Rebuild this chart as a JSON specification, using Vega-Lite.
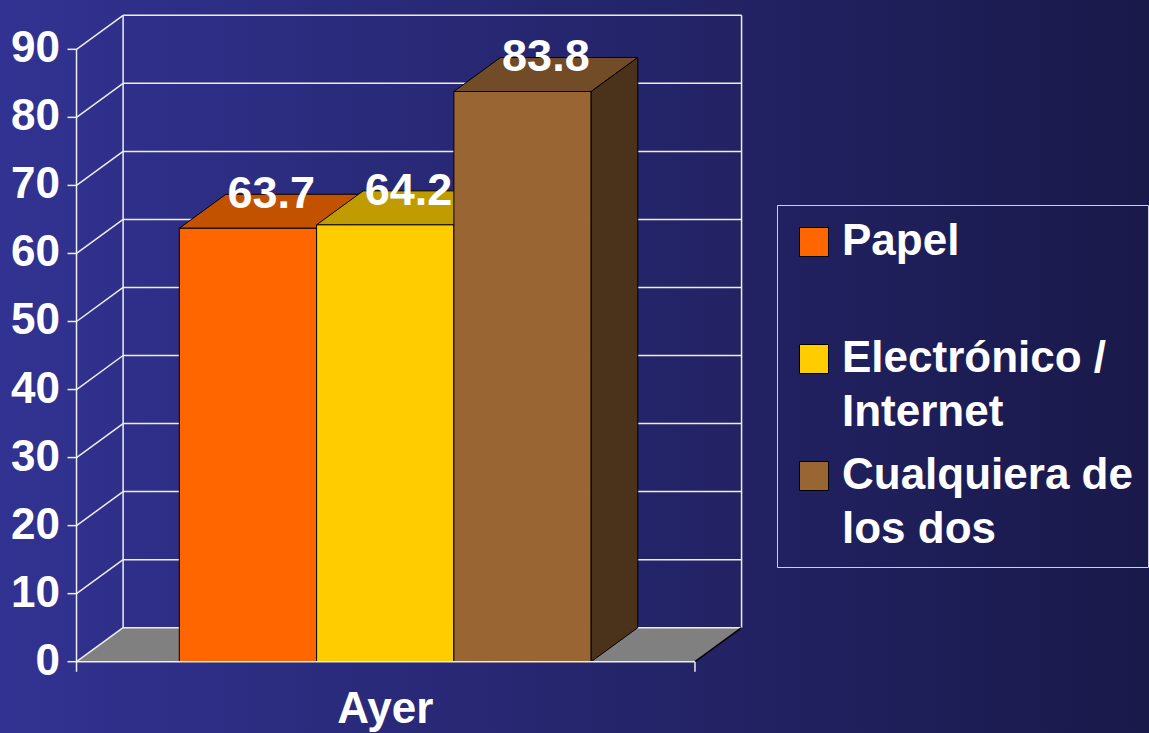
{
  "$schema": "https://vega.github.io/schema/vega-lite/v6.json",
  "width": 1149,
  "height": 733,
  "padding": 0,
  "autosize": {"type": "none"},
  "config": {"view": {"stroke": null}, "font": "Liberation Sans"},
  "layer": [
    {
      "data": {"values": [{"fondo": 1}]},
      "mark": {"type": "rect", "stroke": null, "fill": {"gradient": "linear", "x1": 0, "y1": 0, "x2": 1, "y2": 0, "stops": [{"offset": 0, "color": "#323292"}, {"offset": 1, "color": "#19194a"}]}},
      "encoding": {"x": {"value": 0}, "x2": {"value": "width"}, "y": {"value": 0}, "y2": {"value": "height"}}
    },
    {
      "data": {"values": [{"y": 0, "xa": -0.7487, "xb": 3.756}, {"y": 5, "xa": -0.4093, "xb": 4.0954}]},
      "mark": {"type": "area", "orient": "horizontal", "fill": "#808080", "stroke": null},
      "encoding": {
        "y": {"field": "y", "type": "quantitative", "scale": {"domain": [-10.48, 97.25], "nice": false, "zero": false}, "axis": null},
        "x": {"field": "xa", "type": "quantitative", "scale": {"domain": [-1.306, 7.063], "nice": false, "zero": false}, "axis": null, "stack": null},
        "x2": {"field": "xb"}
      }
    },
    {
      "data": {"values": [
        {"x": -0.4093, "x2": 4.0954, "y": 5, "y2": 5},
        {"x": -0.4093, "x2": 4.0954, "y": 15, "y2": 15},
        {"x": -0.4093, "x2": 4.0954, "y": 25, "y2": 25},
        {"x": -0.4093, "x2": 4.0954, "y": 35, "y2": 35},
        {"x": -0.4093, "x2": 4.0954, "y": 45, "y2": 45},
        {"x": -0.4093, "x2": 4.0954, "y": 55, "y2": 55},
        {"x": -0.4093, "x2": 4.0954, "y": 65, "y2": 65},
        {"x": -0.4093, "x2": 4.0954, "y": 75, "y2": 75},
        {"x": -0.4093, "x2": 4.0954, "y": 85, "y2": 85},
        {"x": -0.4093, "x2": 4.0954, "y": 95, "y2": 95},
        {"x": -0.7487, "x2": -0.4093, "y": 0, "y2": 5},
        {"x": -0.7487, "x2": -0.4093, "y": 10, "y2": 15},
        {"x": -0.7487, "x2": -0.4093, "y": 20, "y2": 25},
        {"x": -0.7487, "x2": -0.4093, "y": 30, "y2": 35},
        {"x": -0.7487, "x2": -0.4093, "y": 40, "y2": 45},
        {"x": -0.7487, "x2": -0.4093, "y": 50, "y2": 55},
        {"x": -0.7487, "x2": -0.4093, "y": 60, "y2": 65},
        {"x": -0.7487, "x2": -0.4093, "y": 70, "y2": 75},
        {"x": -0.7487, "x2": -0.4093, "y": 80, "y2": 85},
        {"x": -0.7487, "x2": -0.4093, "y": 90, "y2": 95},
        {"x": -0.8143, "x2": -0.7487, "y": 0, "y2": 0},
        {"x": -0.8143, "x2": -0.7487, "y": 10, "y2": 10},
        {"x": -0.8143, "x2": -0.7487, "y": 20, "y2": 20},
        {"x": -0.8143, "x2": -0.7487, "y": 30, "y2": 30},
        {"x": -0.8143, "x2": -0.7487, "y": 40, "y2": 40},
        {"x": -0.8143, "x2": -0.7487, "y": 50, "y2": 50},
        {"x": -0.8143, "x2": -0.7487, "y": 60, "y2": 60},
        {"x": -0.8143, "x2": -0.7487, "y": 70, "y2": 70},
        {"x": -0.8143, "x2": -0.7487, "y": 80, "y2": 80},
        {"x": -0.8143, "x2": -0.7487, "y": 90, "y2": 90},
        {"x": -0.4093, "x2": -0.4093, "y": 5, "y2": 95},
        {"x": 4.0954, "x2": 4.0954, "y": 5, "y2": 95},
        {"x": -0.7487, "x2": -0.7487, "y": -1.47, "y2": 90}
      ]},
      "mark": {"type": "rule", "stroke": "#eeeeee", "strokeWidth": 1.5},
      "encoding": {
        "x": {"field": "x", "type": "quantitative", "scale": {"domain": [-1.306, 7.063], "nice": false, "zero": false}, "axis": null},
        "x2": {"field": "x2"},
        "y": {"field": "y", "type": "quantitative", "scale": {"domain": [-10.48, 97.25], "nice": false, "zero": false}, "axis": null},
        "y2": {"field": "y2"}
      }
    },
    {
      "data": {"values": [
        {"v": 0, "eje": -0.7487}, {"v": 10, "eje": -0.7487}, {"v": 20, "eje": -0.7487}, {"v": 30, "eje": -0.7487}, {"v": 40, "eje": -0.7487},
        {"v": 50, "eje": -0.7487}, {"v": 60, "eje": -0.7487}, {"v": 70, "eje": -0.7487}, {"v": 80, "eje": -0.7487}, {"v": 90, "eje": -0.7487}
      ]},
      "mark": {"type": "text", "font": "Liberation Sans", "fontSize": 44, "fontWeight": "bold", "fill": "#ffffff", "align": "right", "baseline": "middle", "dx": -16.5},
      "encoding": {
        "x": {"field": "eje", "type": "quantitative", "scale": {"domain": [-1.306, 7.063], "nice": false, "zero": false}, "axis": null},
        "y": {"field": "v", "type": "quantitative", "scale": {"domain": [-10.48, 97.25], "nice": false, "zero": false}, "axis": null},
        "text": {"field": "v", "type": "quantitative", "format": "d"}
      }
    },
    {
      "data": {"values": [{"x": 3.756, "x2": 4.0954, "y": 0, "y2": 5}]},
      "mark": {"type": "rule", "stroke": "#000000", "strokeWidth": 1.5},
      "encoding": {
        "x": {"field": "x", "type": "quantitative", "scale": {"domain": [-1.306, 7.063], "nice": false, "zero": false}, "axis": null},
        "x2": {"field": "x2"},
        "y": {"field": "y", "type": "quantitative", "scale": {"domain": [-10.48, 97.25], "nice": false, "zero": false}, "axis": null},
        "y2": {"field": "y2"}
      }
    },
    {
      "data": {"values": [{"serie": "Papel", "y": 63.7, "xa": 0, "xb": 1}, {"serie": "Papel", "y": 68.7, "xa": 0.3394, "xb": 1.3394}]},
      "mark": {"type": "area", "orient": "horizontal", "fill": "#c25100", "stroke": "#000000", "strokeWidth": 1},
      "encoding": {
        "y": {"field": "y", "type": "quantitative", "scale": {"domain": [-10.48, 97.25], "nice": false, "zero": false}, "axis": null},
        "x": {"field": "xa", "type": "quantitative", "scale": {"domain": [-1.306, 7.063], "nice": false, "zero": false}, "axis": null, "stack": null},
        "x2": {"field": "xb"}
      }
    },
    {
      "data": {"values": [{"serie": "Electrónico / Internet", "y": 64.2, "xa": 1, "xb": 2}, {"serie": "Electrónico / Internet", "y": 69.2, "xa": 1.3394, "xb": 2.3394}]},
      "mark": {"type": "area", "orient": "horizontal", "fill": "#c09c00", "stroke": "#000000", "strokeWidth": 1},
      "encoding": {
        "y": {"field": "y", "type": "quantitative", "scale": {"domain": [-10.48, 97.25], "nice": false, "zero": false}, "axis": null},
        "x": {"field": "xa", "type": "quantitative", "scale": {"domain": [-1.306, 7.063], "nice": false, "zero": false}, "axis": null, "stack": null},
        "x2": {"field": "xb"}
      }
    },
    {
      "data": {"values": [{"serie": "Cualquiera de los dos", "y": 83.8, "xa": 2, "xb": 3}, {"serie": "Cualquiera de los dos", "y": 88.8, "xa": 2.3394, "xb": 3.3394}]},
      "mark": {"type": "area", "orient": "horizontal", "fill": "#714c26", "stroke": "#000000", "strokeWidth": 1},
      "encoding": {
        "y": {"field": "y", "type": "quantitative", "scale": {"domain": [-10.48, 97.25], "nice": false, "zero": false}, "axis": null},
        "x": {"field": "xa", "type": "quantitative", "scale": {"domain": [-1.306, 7.063], "nice": false, "zero": false}, "axis": null, "stack": null},
        "x2": {"field": "xb"}
      }
    },
    {
      "data": {"values": [
        {"serie": "Papel", "valor": 63.7, "x0": 0, "x1": 1},
        {"serie": "Electrónico / Internet", "valor": 64.2, "x0": 1, "x1": 2},
        {"serie": "Cualquiera de los dos", "valor": 83.8, "x0": 2, "x1": 3}
      ]},
      "mark": {"type": "rect", "stroke": "#000000", "strokeWidth": 1, "opacity": 1},
      "encoding": {
        "x": {"field": "x0", "type": "quantitative", "scale": {"domain": [-1.306, 7.063], "nice": false, "zero": false}, "axis": null},
        "x2": {"field": "x1"},
        "y": {"field": "valor", "type": "quantitative", "scale": {"domain": [-10.48, 97.25], "nice": false, "zero": false}, "axis": null},
        "y2": {"datum": 0},
        "color": {"field": "serie", "type": "nominal",
          "scale": {"domain": ["Papel", "Electrónico / Internet", "Cualquiera de los dos"], "range": ["#ff6600", "#ffcc00", "#996633"]},
          "legend": {"title": null, "orient": "none", "legendX": 777, "legendY": 205, "direction": "vertical",
            "symbolType": "square", "symbolSize": 841, "symbolStrokeColor": "#000000", "symbolStrokeWidth": 1, "symbolOpacity": 1,
            "labelFont": "Liberation Sans", "labelFontSize": 44, "labelFontWeight": "bold", "labelColor": "#ffffff", "labelLimit": 0, "labelOffset": 6,
            "labelExpr": "datum.label == 'Papel' ? ['Papel', ' '] : datum.label == 'Electrónico / Internet' ? ['Electrónico /', 'Internet'] : ['Cualquiera de', 'los dos']",
            "rowPadding": 19, "gridAlign": "all", "padding": 15, "strokeColor": "#d0d0d8",
            "encode": {"labels": {"update": {"lineHeight": {"value": 53.5}}}}}
        }
      }
    },
    {
      "data": {"values": [{"serie": "Cualquiera de los dos", "x": 3, "ya": 0, "yb": 83.8}, {"serie": "Cualquiera de los dos", "x": 3.3394, "ya": 5, "yb": 88.8}]},
      "mark": {"type": "area", "orient": "vertical", "fill": "#4b321a", "stroke": "#000000", "strokeWidth": 1},
      "encoding": {
        "x": {"field": "x", "type": "quantitative", "scale": {"domain": [-1.306, 7.063], "nice": false, "zero": false}, "axis": null},
        "y": {"field": "ya", "type": "quantitative", "scale": {"domain": [-10.48, 97.25], "nice": false, "zero": false}, "axis": null, "stack": null},
        "y2": {"field": "yb"}
      }
    },
    {
      "data": {"values": [{"x": -0.7487, "x2": 3.756, "y": 0, "y2": 0}, {"x": 3.756, "x2": 3.756, "y": 0, "y2": -1.47}]},
      "mark": {"type": "rule", "stroke": "#eeeeee", "strokeWidth": 1.5},
      "encoding": {
        "x": {"field": "x", "type": "quantitative", "scale": {"domain": [-1.306, 7.063], "nice": false, "zero": false}, "axis": null},
        "x2": {"field": "x2"},
        "y": {"field": "y", "type": "quantitative", "scale": {"domain": [-10.48, 97.25], "nice": false, "zero": false}, "axis": null},
        "y2": {"field": "y2"}
      }
    },
    {
      "data": {"values": [
        {"serie": "Papel", "valor": 63.7, "xc": 0.67, "yt": 68.7},
        {"serie": "Electrónico / Internet", "valor": 64.2, "xc": 1.67, "yt": 69.2},
        {"serie": "Cualquiera de los dos", "valor": 83.8, "xc": 2.67, "yt": 88.8}
      ]},
      "mark": {"type": "text", "font": "Liberation Sans", "fontSize": 45, "fontWeight": "bold", "fill": "#ffffff", "align": "center", "baseline": "middle"},
      "encoding": {
        "x": {"field": "xc", "type": "quantitative", "scale": {"domain": [-1.306, 7.063], "nice": false, "zero": false}, "axis": null},
        "y": {"field": "yt", "type": "quantitative", "scale": {"domain": [-10.48, 97.25], "nice": false, "zero": false}, "axis": null},
        "text": {"field": "valor", "type": "quantitative", "format": ".1f"}
      }
    },
    {
      "data": {"values": [{"categoria": "Ayer", "xc": 1.5, "yc": -9.05}]},
      "mark": {"type": "text", "font": "Liberation Sans", "fontSize": 44, "fontWeight": "bold", "fill": "#ffffff", "align": "center", "baseline": "alphabetic"},
      "encoding": {
        "x": {"field": "xc", "type": "quantitative", "scale": {"domain": [-1.306, 7.063], "nice": false, "zero": false}, "axis": null},
        "y": {"field": "yc", "type": "quantitative", "scale": {"domain": [-10.48, 97.25], "nice": false, "zero": false}, "axis": null},
        "text": {"field": "categoria", "type": "nominal"}
      }
    }
  ]
}
